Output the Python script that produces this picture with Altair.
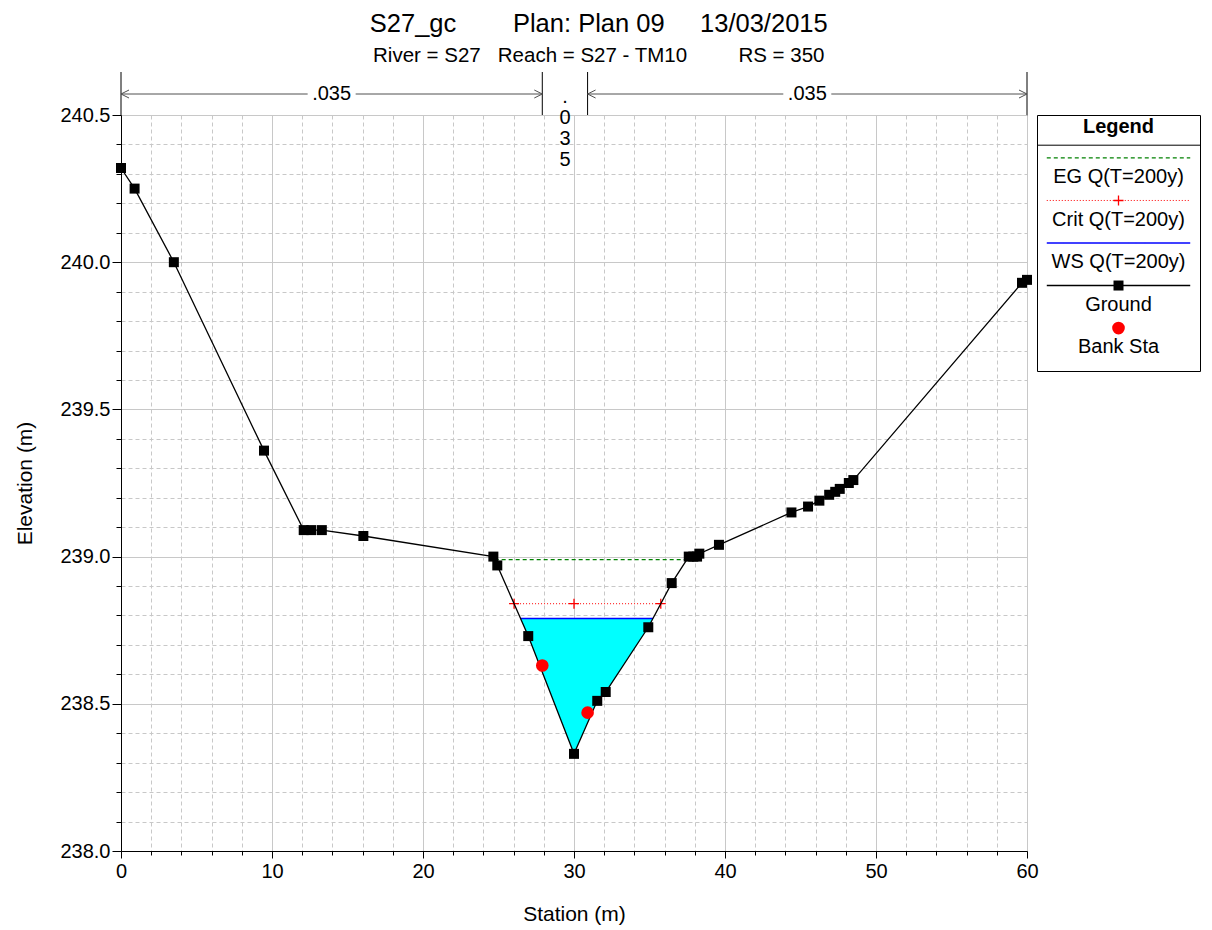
import altair as alt
import numpy as np
import pandas as pd

FONT = "Liberation Sans"

# Cross-section survey points: station (m) and ground elevation (m)
ground_sta = [0.0, 0.9, 3.5, 9.47, 12.1, 12.6, 13.3, 16.05, 24.66, 24.92,
              26.97, 30.0, 31.54, 32.1, 34.92, 36.47, 37.6, 37.9, 38.15, 38.3,
              39.6, 44.4, 45.5, 46.25, 46.9, 47.3, 47.6, 48.2, 48.5, 59.67, 60.0]
ground_elev = [240.32, 240.25, 240.0, 239.36, 239.09, 239.09, 239.09, 239.07, 239.0, 238.97,
               238.73, 238.33, 238.51, 238.54, 238.76, 238.91, 239.0, 239.0, 239.0, 239.01,
               239.04, 239.15, 239.17, 239.19, 239.21, 239.22, 239.23, 239.25, 239.26, 239.93, 239.94]

# Main channel bank stations
bank_sta = [27.9, 30.9]
bank_elev = [238.63, 238.47]

# Computed water levels for Q(T=200y)
eg_elev = 238.99
crit_elev = 238.84
ws_elev = 238.79

# Manning's n: left overbank, main channel, right overbank
n_values = [".035", ".035", ".035"]

legend_labels = ["EG Q(T=200y)", "Crit Q(T=200y)", "WS Q(T=200y)", "Ground", "Bank Sta"]

sta = np.array(ground_sta)
elev = np.array(ground_elev)


def crossing(level):
    """Stations where a horizontal level meets the ground on either side of the thalweg."""
    k = int(np.argmin(elev))
    i = k
    while i > 0 and elev[i - 1] < level:
        i -= 1
    j = k
    while j < len(elev) - 1 and elev[j + 1] < level:
        j += 1
    left = sta[i - 1] + (level - elev[i - 1]) * (sta[i] - sta[i - 1]) / (elev[i] - elev[i - 1])
    right = sta[j] + (level - elev[j]) * (sta[j + 1] - sta[j]) / (elev[j + 1] - elev[j])
    return float(left), float(right), i, j


ground_df = pd.DataFrame({"sta": ground_sta, "elev": ground_elev})
bank_df = pd.DataFrame({"sta": bank_sta, "elev": bank_elev})

ws_l, ws_r, wi, wj = crossing(ws_elev)
water_df = pd.DataFrame({
    "sta": [ws_l] + list(sta[wi:wj + 1]) + [ws_r],
    "elev": [ws_elev] + list(elev[wi:wj + 1]) + [ws_elev],
})
water_df["top"] = ws_elev

eg_l, eg_r, _, _ = crossing(eg_elev)
cr_l, cr_r, _, _ = crossing(crit_elev)
eg_df = pd.DataFrame({"sta": [eg_l], "sta2": [eg_r], "elev": [eg_elev]})
cr_df = pd.DataFrame({"sta": [cr_l], "sta2": [cr_r], "elev": [crit_elev]})
ws_df = pd.DataFrame({"sta": [ws_l], "sta2": [ws_r], "elev": [ws_elev]})
cr_pts = pd.DataFrame({"sta": [cr_l, float(sta[int(np.argmin(elev))]), cr_r], "elev": crit_elev})

# Manning's n subsections bounded by the section ends and the bank stations
breaks = [ground_sta[0]] + bank_sta + [ground_sta[-1]]
n_df = pd.DataFrame({"sta": breaks[:-1], "sta2": breaks[1:], "n": n_values})
n_df["mid"] = (n_df["sta"] + n_df["sta2"]) / 2
n_df["wide"] = (n_df["sta2"] - n_df["sta"]) > 10
breaks_df = pd.DataFrame({"sta": breaks})

# Scales and axes
xs = alt.Scale(domain=[0, 60], nice=False, zero=False)
ys = alt.Scale(domain=[238, 240.5], nice=False, zero=False)
x_major = "datum.value % 10 === 0"
y_major = "abs(datum.value * 2 - round(datum.value * 2)) < 1e-6"
x_axis = alt.Axis(
    values=list(range(0, 61, 2)), format="d",
    labelExpr=f"{x_major} ? datum.label : ''",
    tickSize={"condition": {"test": x_major, "value": 7}, "value": 4},
    gridDash={"condition": {"test": x_major, "value": []}, "value": [4, 3]},
    labelPadding=3, titlePadding=22, labelFlush=False,
)
y_axis = alt.Axis(
    values=[round(238 + 0.1 * k, 1) for k in range(26)], format=".1f",
    labelExpr=f"{y_major} ? datum.label : ''",
    tickSize={"condition": {"test": y_major, "value": 9}, "value": 5},
    gridDash={"condition": {"test": y_major, "value": []}, "value": [4, 3]},
    labelPadding=2, titlePadding=24, labelFlush=False,
)


def X(field):
    return alt.X(f"{field}:Q", scale=xs, axis=x_axis, title="Station (m)")


def Y(field):
    return alt.Y(f"{field}:Q", scale=ys, axis=y_axis, title="Elevation (m)")


water = alt.Chart(water_df).mark_area(color="#00ffff", opacity=1, line=False).encode(
    x=X("sta"), y=Y("elev"), y2="top")
eg_line = alt.Chart(eg_df).mark_rule(color="#008000", strokeDash=[4, 3], strokeWidth=1.2).encode(
    x=X("sta"), x2="sta2", y=Y("elev"))
cr_line = alt.Chart(cr_df).mark_rule(color="#ff0000", strokeDash=[1, 2], strokeWidth=1).encode(
    x=X("sta"), x2="sta2", y=Y("elev"))
cr_marks = alt.Chart(cr_pts).mark_point(
    shape="M-1,0L1,0M0,-1L0,1", filled=False, color="#ff0000", size=100, strokeWidth=1.3, opacity=1
).encode(x=X("sta"), y=Y("elev"))
ws_line = alt.Chart(ws_df).mark_rule(color="#0000ff", strokeWidth=1.5).encode(
    x=X("sta"), x2="sta2", y=Y("elev"))
ground_line = alt.Chart(ground_df).mark_line(color="black", strokeWidth=1.3).encode(
    x=X("sta"), y=Y("elev"))
ground_pts = alt.Chart(ground_df).mark_point(
    shape="square", filled=True, color="black", size=100, opacity=1
).encode(x=X("sta"), y=Y("elev"))
bank_pts = alt.Chart(bank_df).mark_point(
    shape="circle", filled=True, color="#ff0000", size=160, opacity=1
).encode(x=X("sta"), y=Y("elev"))

# Manning's n annotation band above the plot
n_ticks = alt.Chart(breaks_df).mark_rule(color="black", strokeWidth=1).encode(
    x=X("sta"), y=alt.value(-43), y2=alt.value(0))
wide = alt.Chart(n_df).transform_filter("datum.wide")
n_arrows = wide.mark_rule(color="#505050", strokeWidth=1).encode(
    x=X("sta"), x2="sta2", y=alt.value(-21))
n_head_l = wide.mark_point(shape="M2,-1L0,0L2,1", filled=False, color="#505050", size=64,
                           strokeWidth=1, opacity=1).encode(x=X("sta"), y=alt.value(-21))
n_head_r = wide.mark_point(shape="M-2,-1L0,0L-2,1", filled=False, color="#505050", size=64,
                           strokeWidth=1, opacity=1).encode(x=X("sta2"), y=alt.value(-21))
n_bg = wide.mark_point(shape="M-1,-0.35L1,-0.35L1,0.35L-1,0.35Z", filled=True, color="white",
                       size=2304, opacity=1).encode(x=X("mid"), y=alt.value(-21))
n_text = wide.mark_text(font=FONT, fontSize=20, baseline="middle", color="black").encode(
    x=X("mid"), y=alt.value(-21), text="n:N")
n_text_v = alt.Chart(n_df).transform_filter("!datum.wide").transform_calculate(
    nv="join(split(datum.n, ''), '\\n')"
).mark_text(font=FONT, fontSize=20, baseline="alphabetic", lineBreak="\n", lineHeight=21,
            color="black").encode(x=X("mid"), y=alt.value(-12), text="nv:N")

main = alt.layer(
    water, eg_line, cr_line, cr_marks, ws_line, ground_line, ground_pts, bank_pts,
    n_ticks, n_arrows, n_head_l, n_head_r, n_bg, n_text, n_text_v,
).properties(width=906, height=736)

# Legend panel
leg_df = pd.DataFrame({"label": legend_labels, "row": list(range(len(legend_labels)))})
lys = alt.Scale(domain=[-1.01, 5.01], reverse=True, nice=False, zero=False)
lxs = alt.Scale(domain=[0, 1], nice=False, zero=False)
styles = ["eg", "crit", "ws", "ground", "bank"]
leg_df["style"] = styles
lbase = alt.Chart(leg_df)


def LY(expr_field):
    return alt.Y(f"{expr_field}:Q", scale=lys, axis=None)


leg_text = lbase.transform_calculate(ty="datum.row + 0.45").mark_text(
    font=FONT, fontSize=20, baseline="middle", color="black").encode(
    x=alt.X("c:Q", scale=lxs, axis=None), y=LY("ty"), text="label:N"
).transform_calculate(c="0.5")


def leg_rule(style, color, dash, width):
    return lbase.transform_filter(f"datum.style === '{style}'").mark_rule(
        color=color, strokeDash=dash, strokeWidth=width).encode(
        x=alt.datum(0.06, scale=lxs, axis=None), x2=alt.datum(0.94), y=LY("row"))


leg_eg = leg_rule("eg", "#008000", [4, 3], 1.2)
leg_cr = leg_rule("crit", "#ff0000", [1, 2], 1)
leg_ws = leg_rule("ws", "#0000ff", [1, 0], 1.5)
leg_gr = leg_rule("ground", "black", [1, 0], 1.3)


def leg_mark(style, **kw):
    return lbase.transform_filter(f"datum.style === '{style}'").mark_point(opacity=1, **kw).encode(
        x=alt.datum(0.5, scale=lxs, axis=None), y=LY("row"))


leg_cr_m = leg_mark("crit", shape="M-1,0L1,0M0,-1L0,1", filled=False, color="#ff0000",
                    size=100, strokeWidth=1.3)
leg_gr_m = leg_mark("ground", shape="square", filled=True, color="black", size=100)
leg_bk_m = leg_mark("bank", shape="circle", filled=True, color="#ff0000", size=160)

head_df = pd.DataFrame({"t": ["Legend"]})
leg_head = alt.Chart(head_df).mark_text(
    font=FONT, fontSize=20, fontWeight="bold", baseline="middle", color="black").encode(
    x=alt.datum(0.5, scale=lxs, axis=None), y=alt.datum(-0.72, scale=lys, axis=None), text="t:N")
leg_sep = alt.Chart(head_df).mark_rule(color="black", strokeWidth=1).encode(
    x=alt.datum(0, scale=lxs, axis=None), x2=alt.datum(1),
    y=alt.datum(-0.3, scale=lys, axis=None))

legend = alt.layer(
    leg_head, leg_sep, leg_eg, leg_cr, leg_ws, leg_gr, leg_cr_m, leg_gr_m, leg_bk_m, leg_text
).properties(width=163, height=256)

title = alt.TitleParams(
    text="S27_gc\u00a0\u00a0\u00a0\u00a0\u00a0\u00a0\u00a0\u00a0Plan: Plan 09\u00a0\u00a0\u00a0\u00a0\u00a013/03/2015",
    subtitle="River = S27\u00a0\u00a0\u00a0Reach = S27 - TM10\u00a0\u00a0\u00a0\u00a0\u00a0\u00a0\u00a0\u00a0\u00a0RS = 350\u00a0\u00a0",
    anchor="middle", font=FONT, fontSize=25.5, fontWeight="normal", color="black",
    subtitleFont=FONT, subtitleFontSize=20.5, subtitleColor="black", subtitlePadding=8, offset=5,
    dx=-9,
)

chart = alt.hconcat(main, legend, spacing=10, bounds="flush").properties(
    title=title, padding={"left": 14, "top": 12, "right": 5, "bottom": 5}
).configure_view(
    stroke="black", strokeWidth=1
).configure_axis(
    labelFont=FONT, titleFont=FONT, labelFontSize=20, titleFontSize=21,
    labelColor="black", titleColor="black", titleFontWeight="normal",
    domainColor="black", tickColor="black", gridColor="#c8c8c8", gridWidth=1,
)

chart.save("out.html", embed_options={"renderer": "svg", "actions": False})
